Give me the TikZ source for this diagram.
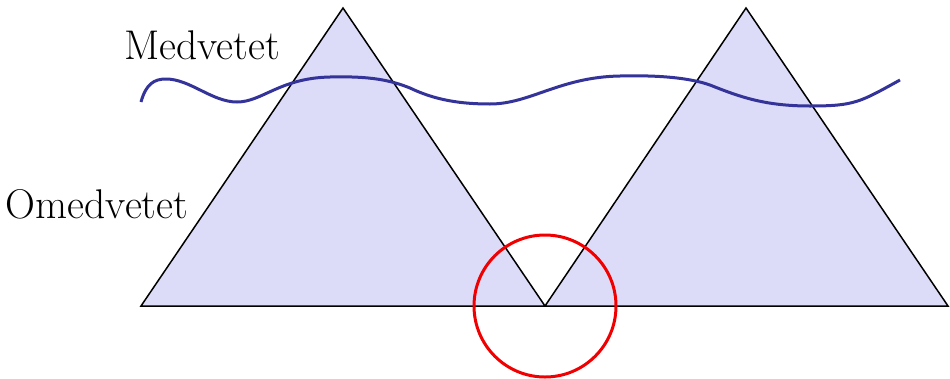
\documentclass[tikz,border=0pt]{standalone}
\definecolor{trifill}{RGB}{220,220,248}
\definecolor{wave}{RGB}{51,51,153}
\definecolor{ring}{RGB}{240,0,0}
\begin{document}
\begin{tikzpicture}[x=1pt,y=-1pt,
  tri/.style={fill=trifill,draw=black,line width=1.5pt,line join=miter},
  lbl/.style={font=\fontsize{41.5}{44}\selectfont,anchor=base,inner sep=0pt}]
\useasboundingbox (0,0) rectangle (950,378);
\draw[tri] (141,306) -- (343,8) -- (545,306) -- cycle;
\draw[tri] (545,306) -- (746,8) -- (948,306) -- cycle;
\draw[wave,line width=3pt] (141,102)
  .. controls (146,84) and (154,79) .. (166,79)
  .. controls (190,79) and (212,102) .. (237,102)
  .. controls (262,102) and (280,78) .. (330,77)
  .. controls (370,76) and (390,80) .. (410,88)
  .. controls (435,100) and (460,104) .. (490,104)
  .. controls (530,104) and (560,77) .. (620,76)
  .. controls (660,75) and (690,78) .. (710,85)
  .. controls (740,97) and (765,106) .. (810,106)
  .. controls (855,106) and (860,102) .. (900,80);
\node[lbl] (med) at (202,59) {Medvetet};
\node[lbl] (omed) at (97,218) {Omedvetet};
\node[draw=ring,line width=3pt,circle,minimum size=142pt,inner sep=0pt] (c) at (545,306) {};
\end{tikzpicture}
\end{document}
